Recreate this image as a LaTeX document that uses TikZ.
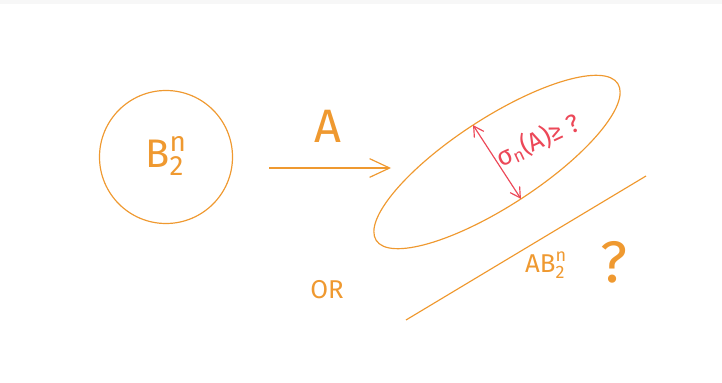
\documentclass[tikz,border=0pt]{standalone}
\usepackage{amsmath}
\usepackage{fontspec}
\setmainfont{Fira Sans}
\usetikzlibrary{arrows.meta,positioning}
\definecolor{penorange}{RGB}{239,153,48}
\definecolor{penred}{RGB}{236,72,88}
\begin{document}
\begin{tikzpicture}[
    x=0.03cm, y=0.03cm,
    stroke/.style={draw=penorange, line width=1pt},
    redstroke/.style={draw=penred, line width=1pt},
    scrawl/.style={text=penorange, inner sep=0pt},
    redscrawl/.style={text=penred, inner sep=0pt}
]
\fill[gray!6] (0,378) rectangle (722,382);
\useasboundingbox (0,0) rectangle (722,382);
% unit ball
\node[stroke, circle, minimum size=3.99cm, inner sep=0pt] (ball) at (166,225) {};
\node[scrawl, font=\fontsize{34}{36}\selectfont] (balllabel) at (166,226) {$\text{B}^{\text{n}}_{\text{2}}$};
% the map
\coordinate (mapstart) at (269,214);
\coordinate (mapend) at (391,214);
\draw[stroke, -{Straight Barb[length=6mm, width=5.6mm]}] (mapstart) -- (mapend);
\node[scrawl, font=\fontsize{40}{42}\selectfont] (maplabel) at (328,256) {A};
% image of the ball
\coordinate (img) at (497,220);
\begin{scope}[shift={(img)}, rotate=33]
  \draw[stroke] (0,0) ellipse (144 and 44);
  \coordinate (minortop) at (0,44);
  \coordinate (minorbot) at (0,-44);
\end{scope}
\draw[redstroke, {Straight Barb[length=3mm, width=3.4mm]}-{Straight Barb[length=3mm, width=3.4mm]}] (minortop) -- (minorbot);
\node[redscrawl, rotate=25, font=\fontsize{22}{24}\selectfont] (sigmalabel) at (538,242) {σ$_{\text{n}}$(A)≥ ?};
% degenerate image
\coordinate (flatlo) at (406,62);
\coordinate (flathi) at (646,206);
\draw[stroke] (flatlo) -- (flathi);
\node[scrawl, font=\fontsize{22}{24}\selectfont] (flatlabel) at (546,117) {A$\text{B}^{\text{n}}_{\text{2}}$};
\node[scrawl, font=\fontsize{50}{52}\selectfont] (query) at (614,120) {?};
\node[scrawl, font=\fontsize{22}{24}\selectfont] (orlabel) at (327,92) {OR};
\end{tikzpicture}
\end{document}
